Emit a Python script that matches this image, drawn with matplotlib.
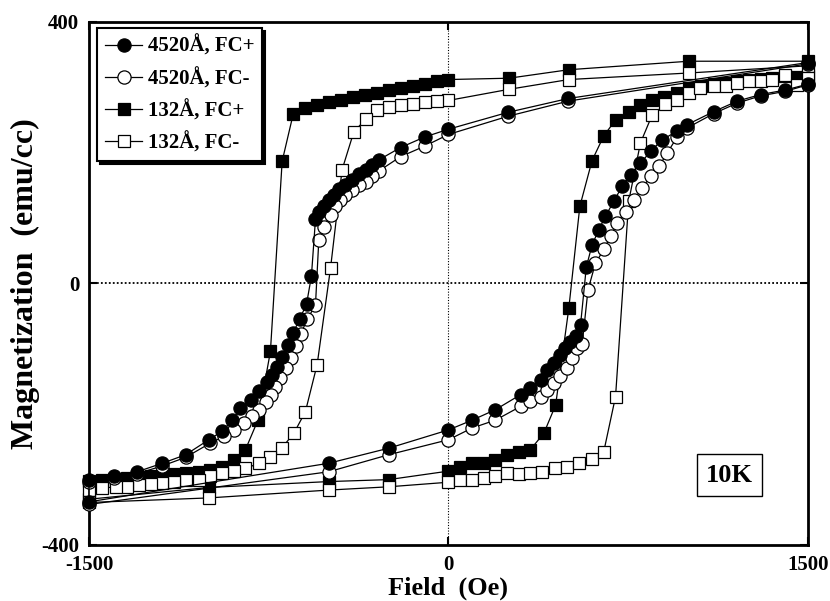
import matplotlib
matplotlib.use('Agg')
import matplotlib.pyplot as plt

# ---- Петли гистерезиса при 10 K: поле (Э) и намагниченность (emu/cc) ----
# 4520 Å, FC+ (спуск от +1500 к -1500, затем подъём обратно)
h_4520p_down = [1500, 500, 250, 0, -100, -200, -291, -318, -346, -374, -402, -430, -458, -479,
                -499, -520, -541, -555, -572, -592, -620, -648, -670, -694, -715, -736, -757,
                -790, -826, -868, -902, -944, -1000, -1097, -1194, -1299, -1396, -1500]
m_4520p_down = [338, 283, 262, 236, 224, 208, 189, 182, 174, 167, 159, 151, 144, 136,
                128, 118, 110, 98, 11, -31, -54, -75, -94, -112, -127, -140, -150,
                -165, -178, -191, -209, -226, -239, -262, -275, -288, -295, -300]
h_4520p_up = [-1500, -500, -250, 0, 99, 196, 301, 342, 384, 412, 439, 467, 488, 509, 530, 551,
              575, 599, 627, 655, 690, 725, 760, 801, 843, 892, 954, 996, 1107, 1205, 1302, 1406, 1500]
m_4520p_up = [-334, -275, -252, -224, -209, -193, -170, -160, -147, -132, -122, -109, -99, -89, -80, -63,
              25, 59, 82, 103, 126, 149, 166, 184, 202, 220, 233, 243, 263, 279, 289, 296, 305]

# 4520 Å, FC-
h_4520m_down = [1500, 500, 250, 0, -100, -200, -291, -318, -346, -374, -402, -430, -451, -472,
                -492, -520, -541, -555, -590, -617, -638, -659, -680, -701, -722, -742, -763,
                -791, -819, -854, -896, -937, -993, -1097, -1194, -1299, -1396, -1500]
m_4520m_down = [336, 279, 256, 228, 210, 194, 172, 164, 156, 151, 143, 136, 128, 118,
                105, 87, 67, -33, -55, -78, -96, -114, -129, -145, -158, -170, -181,
                -193, -203, -214, -224, -234, -244, -266, -279, -291, -298, -303]
h_4520m_up = [-1500, -500, -250, 0, 99, 196, 301, 342, 384, 412, 439, 467, 495, 516, 537, 558,
              582, 613, 648, 676, 704, 739, 773, 808, 843, 878, 913, 954, 996,
              1107, 1205, 1302, 1406, 1500]
m_4520m_up = [-338, -288, -262, -239, -221, -209, -188, -180, -173, -163, -152, -142, -129, -114, -99, -92,
              -10, 31, 52, 72, 92, 110, 128, 146, 164, 179, 200, 224, 238,
              260, 276, 287, 294, 304]

# 132 Å, FC+
h_132p_down = [1500, 1003, 502, 252, 0, -50, -100, -150, -200, -250, -300, -350, -400, -450,
               -500, -550, -600, -648, -694, -743, -795, -847, -896, -944, -993, -1042, -1097,
               -1146, -1194, -1243, -1292, -1341, -1389, -1445, -1500]
m_132p_down = [340, 340, 327, 314, 312, 309, 305, 302, 299, 296, 292, 288, 285, 281,
               277, 273, 268, 259, 187, -104, -209, -254, -270, -280, -285, -288, -290,
               -292, -294, -295, -297, -298, -299, -300, -302]
h_132p_up = [-1500, -1000, -500, -250, 0, 50, 99, 147, 196, 245, 293, 342, 398, 447, 502,
             548, 599, 648, 697, 752, 801, 850, 898, 954, 1003, 1052, 1107, 1156, 1205,
             1253, 1302, 1351, 1406, 1455, 1500]
m_132p_up = [-330, -312, -303, -300, -287, -280, -275, -274, -270, -262, -258, -254, -229, -186, -38,
             118, 188, 226, 250, 263, 273, 280, 286, 292, 299, 302, 305, 306, 309,
             311, 313, 314, 318, 316, 318]

# 132 Å, FC-
h_132m_down = [1500, 1003, 502, 252, 0, -50, -100, -150, -200, -250, -300, -346, -395, -444,
               -492, -548, -597, -645, -694, -743, -791, -847, -896, -944, -993, -1042, -1097,
               -1146, -1194, -1243, -1292, -1341, -1389, -1445, -1500]
m_132m_down = [333, 322, 312, 297, 280, 279, 277, 275, 273, 270, 265, 251, 232, 174,
               24, -124, -196, -229, -251, -266, -275, -283, -287, -290, -295, -300, -300,
               -303, -305, -306, -308, -311, -311, -313, -316]
h_132m_up = [-1500, -1000, -500, -250, 0, 50, 99, 147, 196, 245, 293, 342, 390, 446, 495,
             544, 600, 648, 697, 752, 801, 850, 905, 954, 1003, 1051, 1107, 1156, 1205,
             1253, 1302, 1350, 1406, 1455, 1500]
m_132m_up = [-335, -328, -316, -311, -304, -300, -300, -298, -295, -290, -292, -290, -288, -283, -280,
             -275, -269, -257, -173, 126, 215, 258, 274, 281, 292, 299, 302, 302, 307,
             309, 310, 312, 319, 304, 314]

labels = ['4520Å, FC+', '4520Å, FC-', '132Å, FC+', '132Å, FC-']

# ---- Оформление ----
plt.rcParams['font.family'] = ['Liberation Serif', 'DejaVu Serif']
plt.rcParams['font.weight'] = 'bold'
plt.rcParams['axes.unicode_minus'] = False

fig = plt.figure(figsize=(8.3, 6.01), dpi=100)
ax = fig.add_axes([0.1072, 0.0932, 0.8663, 0.8702])

series = [
    (h_4520p_down + h_4520p_up, m_4520p_down + m_4520p_up, 'o', 'k', 9.5, 6),
    (h_4520m_down + h_4520m_up, m_4520m_down + m_4520m_up, 'o', 'w', 9.5, 5),
    (h_132p_down + h_132p_up, m_132p_down + m_132p_up, 's', 'k', 8.5, 3),
    (h_132m_down + h_132m_up, m_132m_down + m_132m_up, 's', 'w', 8.5, 4),
]
handles = []
for (h, m, mk, fc, ms, z), lab in zip(series, labels):
    line, = ax.plot(h, m, color='k', lw=0.9, marker=mk, ms=ms, mfc=fc, mec='k',
                    mew=0.9, label=lab, clip_on=False, zorder=z)
    handles.append(line)

# Пунктирные линии нуля
ax.axhline(0, color='k', lw=1.3, ls=(0, (1, 1.2)), zorder=1)
ax.axvline(0, color='k', lw=0.8, ls=(0, (1, 1.5)), zorder=1)

ax.set_xlim(-1500, 1500)
ax.set_ylim(-400, 400)
ax.set_xticks([-1500, 0, 1500])
ax.set_yticks([-400, 0, 400])
ax.tick_params(direction='in', length=6, width=1.5, top=True, right=True,
               labelsize=15, pad=7)
for s in ax.spines.values():
    s.set_linewidth(2)

ax.set_xlabel('Field  (Oe)', fontsize=19, fontweight='bold', labelpad=1)
ax.set_ylabel('Magnetization  (emu/cc)', fontsize=23, fontweight='bold', labelpad=1)

ax.text(1172, -293, '10K', fontsize=19, fontweight='bold', ha='center', va='center',
        bbox=dict(boxstyle='square,pad=0.35', fc='white', ec='k', lw=1.0), zorder=7)

leg = ax.legend(handles=handles, loc='upper left', bbox_to_anchor=(0.011, 0.989),
                borderaxespad=0, fontsize=15, handlelength=1.8, handletextpad=0.25,
                labelspacing=0.52, borderpad=0.38, fancybox=False, edgecolor='k',
                framealpha=1, shadow={'color': 'k', 'alpha': 1})
leg.get_frame().set_linewidth(1.5)
leg.set_zorder(10)

plt.savefig('out.png', dpi=100)
